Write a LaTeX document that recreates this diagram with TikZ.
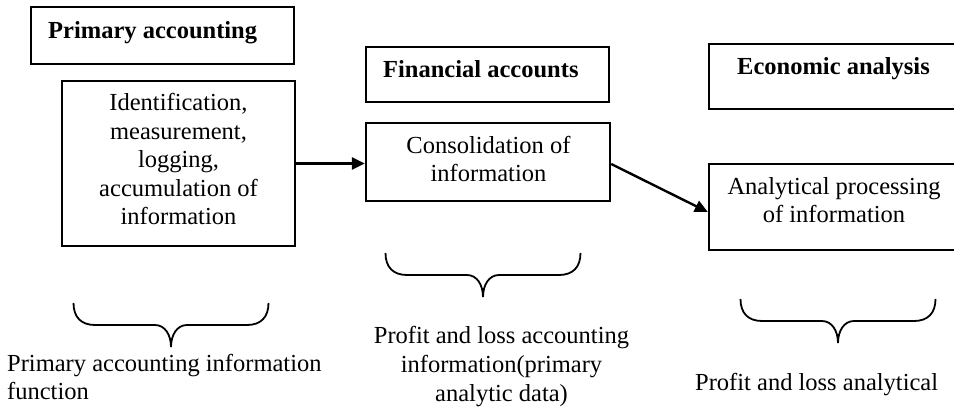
\documentclass[tikz,border=0pt]{standalone}
\usepackage{fontspec}
\setmainfont{Liberation Serif}
\usetikzlibrary{arrows.meta}
\begin{document}
\begin{tikzpicture}[x=1pt,y=-1pt,
  box/.style={draw, line width=2.4pt, inner sep=0pt},
  txt/.style={font=\fontsize{24.5}{28.5}\selectfont, inner sep=0pt, align=center, anchor=base},
  ttl/.style={font=\fontsize{24.5}{28.5}\selectfont\bfseries, inner sep=0pt, anchor=base west},
  conn/.style={line width=2.4pt, -{Triangle[length=13pt,width=12pt]}},
  curlybrace/.pic={\draw[line width=1.8pt] (-97.5,-44) .. controls (-97.5,-30) and (-90,-22) .. (-76,-22) -- (-16,-22) .. controls (-6,-22) and (0,-12) .. (0,0) .. controls (0,-12) and (6,-22) .. (16,-22) -- (76,-22) .. controls (90,-22) and (97.5,-30) .. (97.5,-44);}]
\useasboundingbox (0,0) rectangle (954,414);
\clip (0,0) rectangle (954,414);

% boxes
\node[box, minimum width=263pt, minimum height=57pt] (b1) at (162.5,35.5) {};
\node[box, minimum width=233pt, minimum height=165pt] (b2) at (178.5,163.5) {};
\node[box, minimum width=243pt, minimum height=55pt] (b3) at (487.5,74.5) {};
\node[box, minimum width=244pt, minimum height=78pt] (b4) at (488,162) {};
\node[box, minimum width=249pt, minimum height=65pt] (b5) at (833.5,76.5) {};
\node[box, minimum width=249pt, minimum height=86pt] (b6) at (833.5,207) {};

% titles
\node[ttl] (t1) at (48,39) {Primary accounting};
\node[ttl] (t3) at (383,78) {Financial accounts};
\node[ttl] (t5) at (737,75) {Economic analysis};

% box texts (anchor at baseline of last line)
\node[txt] (t2) at (178.5,225) {Identification,\\measurement,\\logging,\\accumulation of\\information};
\node[txt] (t4) at (488.5,182) {Consolidation of\\information};
\node[txt] (t6) at (834,223) {Analytical processing\\of information};

% connectors
\draw[conn] (b2.east) -- (b2.east -| b4.west);
\draw[conn] ([yshift=-2pt]b4.east) -- ([yshift=-5pt]b6.west);

% braces
\pic at (171,347) {curlybrace};
\pic at (483,297) {curlybrace};
\pic at (838,343) {curlybrace};

% bottom texts
\node[txt, align=left, anchor=base west] (l1) at (7,399.5) {Primary accounting information\\function};
\node[txt, font=\fontsize{24.5}{29.2}\selectfont] (l2) at (501.5,401.7) {Profit and loss accounting\\information(primary\\analytic data)};
\node[txt, anchor=base west] (l3) at (695,390.5) {Profit and loss analytical};
\end{tikzpicture}
\end{document}
